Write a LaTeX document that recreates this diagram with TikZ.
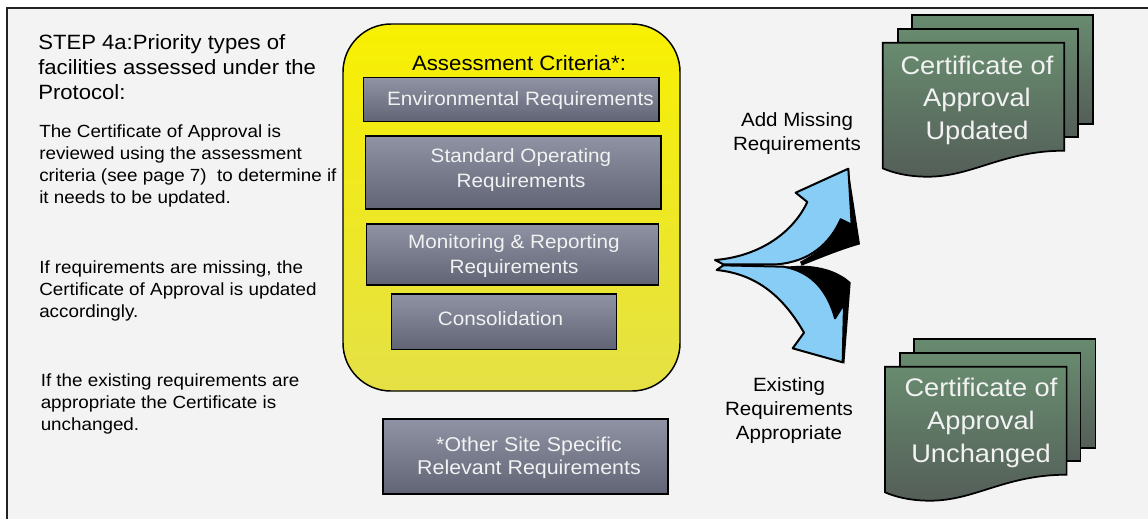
\documentclass[tikz,border=0pt]{standalone}
\usepackage{fontspec}
\setmainfont{Liberation Sans}[FakeStretch=1.07]
\newcommand\clines[1]{\vtop{\halign{\hfil##\hfil\cr#1\crcr}}}
\newcommand\llines[1]{\vtop{\halign{##\hfil\cr#1\crcr}}}
\definecolor{bgc}{HTML}{F3F3F3}
\definecolor{framec}{RGB}{34,34,34}
\definecolor{ytop}{RGB}{248,240,0}
\definecolor{ybot}{RGB}{229,225,70}
\definecolor{gtop}{RGB}{143,147,163}
\definecolor{gbot}{RGB}{96,100,117}
\definecolor{ctop}{RGB}{104,139,111}
\definecolor{cbot}{RGB}{84,94,88}
\definecolor{arrowblue}{RGB}{135,205,245}
\definecolor{lighttxt}{RGB}{242,242,242}
\tikzset{
  graybox/.style={rectangle, draw=black, line width=1.1pt, top color=gtop, bottom color=gbot, inner sep=0pt},
  yellowbox/.style={rectangle, draw=black, line width=1.1pt, top color=ytop, bottom color=ybot, rounded corners=36pt, inner sep=0pt},
  certsheet/.style={draw=black, line width=1.3pt, top color=ctop, bottom color=cbot},
  titletxt/.style={inner sep=0pt, font=\fontsize{15.5}{19.1}\selectfont, text=black},
  bodytxt/.style={inner sep=0pt, font=\fontsize{13.2}{16.5}\selectfont, text=black},
  boxtxt/.style={inner sep=0pt, font=\fontsize{14.5}{18.6}\selectfont, text=lighttxt},
  crittxt/.style={inner sep=0pt, font=\fontsize{15.6}{18}\selectfont, text=black},
  lbltxt/.style={inner sep=0pt, font=\fontsize{14.4}{17.8}\selectfont, text=black},
  certtxt/.style={inner sep=0pt, font=\fontsize{19.1}{24.6}\selectfont, text=lighttxt},
  shadowfill/.style={fill=black},
  arrowfill/.style={fill=arrowblue, draw=black, line width=1.5pt, line join=round},
  certstack/.pic={
    \path[certsheet] (29,-27.5) rectangle ++(181.6,109);
    \path[certsheet] (15,-13.5) rectangle ++(180.5,108);
    \path[certsheet] (0,0) -- (181.6,0) -- (181.6,108)
      .. controls (120,108) and (90,134) .. (45,134)
      .. controls (25,134) and (10,130) .. (0,125.6) -- cycle;
  }
}
\begin{document}
\begin{tikzpicture}[x=0.75pt, y=-0.75pt]
\useasboundingbox (0,0) rectangle (1148,519);
\fill[white] (0,0) rectangle (1148,519);
\fill[bgc] (7,8) rectangle (1148,519);
\draw[line width=1.5pt, framec] (7,519) -- (7,8) -- (1148,8);

% left texts
\node[titletxt, anchor=base west] (title) at (38,49)
  {\llines{STEP 4a:Priority types of\cr facilities assessed under the\cr Protocol:}};
\node[bodytxt, anchor=base west] (p1) at (39,137.5)
  {\llines{The Certificate of Approval is\cr reviewed using the assessment\cr criteria (see page 7)\ \ to determine if\cr it needs to be updated.}};
\node[bodytxt, anchor=base west] (p2) at (39,273.3)
  {\llines{If requirements are missing, the\cr Certificate of Approval is updated\cr accordingly.}};
\node[bodytxt, anchor=base west] (p3) at (40.5,386)
  {\llines{If the existing requirements are\cr appropriate the Certificate is\cr unchanged.}};

% assessment criteria
\node[yellowbox, minimum width=337*0.75pt, minimum height=367*0.75pt] (crit) at (511.5,207.5) {};
\node[crittxt, anchor=base] (critt) at (519,70) {Assessment Criteria*:};

\node[graybox, minimum width=295.7*0.75pt, minimum height=44*0.75pt] (env) at (511.2,99.7) {};
\node[boxtxt, anchor=base] (envt) at (520.5,105) {Environmental Requirements};

\node[graybox, minimum width=295.3*0.75pt, minimum height=73*0.75pt] (sop) at (513.3,172.5) {};
\node[boxtxt, anchor=base] (sopt) at (521,162.7) {\clines{Standard Operating\cr Requirements}};

\node[graybox, minimum width=292*0.75pt, minimum height=61*0.75pt] (mon) at (512.3,254.5) {};
\node[boxtxt, anchor=base] (mont) at (514,248.3) {\clines{Monitoring \& Reporting\cr Requirements}};

\node[graybox, minimum width=225*0.75pt, minimum height=55.3*0.75pt] (con) at (504.2,321.7) {};
\node[boxtxt, anchor=base] (cont) at (500.5,325) {Consolidation};

\node[graybox, minimum width=285*0.75pt, minimum height=75*0.75pt] (other) at (525.5,456.5) {};
\node[boxtxt, anchor=base, font=\fontsize{15}{17}\selectfont] (othert) at (529,451.7) {\clines{*Other Site Specific\cr Relevant Requirements}};

% split arrow
\begin{scope}[shift={(700,150)}, scale=1/3]
\fill[shadowfill] (445,56) -- (480,283) .. controls (420,300) and (360,325) .. (305,347)
  -- (300,335) .. controls (350,310) and (400,270) .. (422,208) -- (455,224) -- cycle;
\fill[shadowfill] (305,347) .. controls (370,348) and (420,368) .. (452,397) -- (433,642)
  -- (428,637) -- (432,462) -- (405,505) .. controls (385,430) and (340,365) .. (250,350) -- cycle;
\path[arrowfill] (45,330) .. controls (170,320) and (275,255) .. (322,156) -- (287,128)
  -- (445,56) -- (455,224) -- (422,208) .. controls (390,280) and (330,335) .. (230,343)
  -- (70,343) -- cycle;
\path[arrowfill] (50,360) .. controls (170,372) and (250,440) .. (312,548) -- (278,595)
  -- (428,637) -- (432,462) -- (405,505) .. controls (385,430) and (340,365) .. (250,350)
  -- (70,346) -- cycle;
\end{scope}

\node[lbltxt, anchor=base] (addlbl) at (797,126.7) {\clines{Add Missing\cr Requirements}};
\node[lbltxt, anchor=base] (exlbl) at (789,391.7) {\clines{Existing\cr Requirements\cr Appropriate}};

% certificates
\pic (certup) at (882.7,42.7) {certstack};
\pic (certdown) at (885,366.7) {certstack};
\node[certtxt, anchor=base] (certupt) at (977,74) {\clines{Certificate of\cr Approval\cr Updated}};
\node[certtxt, anchor=base] (certdownt) at (981,396.7) {\clines{Certificate of\cr Approval\cr Unchanged}};
\end{tikzpicture}
\end{document}
